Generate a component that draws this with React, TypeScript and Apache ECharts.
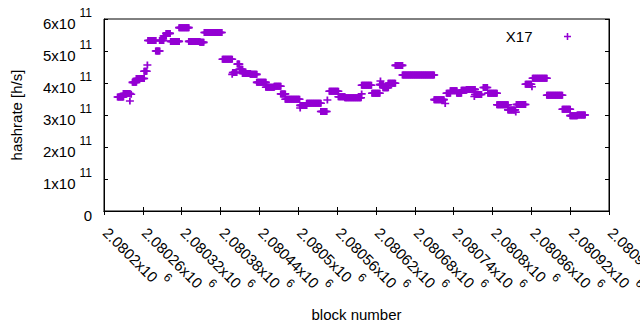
import React, { useEffect, useRef } from "react";
import * as echarts from "echarts";

// Runs of consecutive blocks sharing the same hashrate estimate (start block, end block, hashrate h/s)
const runStart = [
  2080221, 2080230, 2080240, 2080242, 2080244, 2080250, 2080262, 2080267, 2080268, 2080280,
  2080286, 2080292, 2080296, 2080303, 2080316, 2080331, 2080348, 2080355, 2080383, 2080398,
  2080399, 2080406, 2080409, 2080414, 2080426, 2080436, 2080450, 2080463, 2080473, 2080480,
  2080503, 2080503, 2080513, 2080535, 2080545, 2080548, 2080562, 2080572, 2080598, 2080598,
  2080614, 2080627, 2080626, 2080631, 2080639, 2080650, 2080661, 2080710, 2080727, 2080729,
  2080735, 2080745, 2080752, 2080760, 2080772, 2080773, 2080786, 2080793, 2080807, 2080824,
  2080836, 2080837, 2080851, 2080861, 2080862, 2080884, 2080908, 2080920, 2080931,
];
const runEnd = [
  2080230, 2080240, 2080240, 2080242, 2080250, 2080262, 2080266, 2080267, 2080280, 2080286,
  2080292, 2080296, 2080302, 2080316, 2080331, 2080348, 2080354, 2080382, 2080398, 2080398,
  2080405, 2080409, 2080414, 2080426, 2080436, 2080450, 2080463, 2080473, 2080480, 2080502,
  2080503, 2080513, 2080535, 2080544, 2080545, 2080562, 2080572, 2080597, 2080598, 2080613,
  2080626, 2080627, 2080631, 2080639, 2080650, 2080661, 2080710, 2080725, 2080727, 2080735,
  2080745, 2080752, 2080760, 2080773, 2080772, 2080783, 2080792, 2080807, 2080824, 2080835,
  2080836, 2080851, 2080860, 2080861, 2080884, 2080908, 2080920, 2080931, 2080943,
];
const runValue = [
  3.56e11, 3.67e11, 3.44e11, 3.65e11, 4.02e11, 4.14e11, 4.37e11, 4.56e11, 5.33e11, 5.0e11,
  5.33e11, 5.47e11, 5.55e11, 5.3e11, 5.73e11, 5.3e11, 5.27e11, 5.58e11, 4.74e11, 4.27e11,
  4.33e11, 4.59e11, 4.43e11, 4.3e11, 4.27e11, 4.02e11, 3.87e11, 3.9e11, 3.66e11, 3.49e11,
  3.22e11, 3.3e11, 3.37e11, 3.11e11, 3.47e11, 3.74e11, 3.57e11, 3.54e11, 3.66e11, 3.93e11,
  3.68e11, 4.06e11, 3.95e11, 3.85e11, 3.99e11, 4.55e11, 4.25e11, 3.48e11, 3.36e11, 3.68e11,
  3.76e11, 3.68e11, 3.77e11, 3.8e11, 3.58e11, 3.64e11, 3.86e11, 3.68e11, 3.32e11, 3.16e11,
  3.09e11, 3.33e11, 3.96e11, 3.88e11, 4.15e11, 3.62e11, 3.18e11, 2.98e11, 3.0e11,
];

const seriesName = "X17";
const xMin = 2080200;
const xMax = 2080980;
const xInterval = 60;
const yMin = 0;
const yMax = 6e11;
const yInterval = 1e11;

const COLOR = "#9400D3";
const FONT = "Liberation Sans";
const PLUS =
  "path://M0,7L18,7L18,11L0,11Z M7,0L11,0L11,18L7,18Z";

export default function App() {
  const ref = useRef<HTMLDivElement>(null);
  useEffect(() => {
    const chart = echarts.init(ref.current!, null, { renderer: "svg" });
    const data: number[][] = [];
    for (let i = 0; i < runStart.length; i++) {
      for (let b = runStart[i]; b <= runEnd[i]; b++) data.push([b, runValue[i]]);
    }
    const tick = { show: true, inside: true, length: 4, lineStyle: { color: "#000", width: 1 } };
    const line = { show: true, lineStyle: { color: "#000", width: 1 } };
    const rich = {
      b: { fontFamily: FONT, fontSize: 15, color: "#000", lineHeight: 24, verticalAlign: "bottom" },
      s: { fontFamily: FONT, fontSize: 12, color: "#000", lineHeight: 12, verticalAlign: "top", padding: [0, 0, 0, 4] },
    };
    chart.setOption({
      animation: false,
      grid: {
        left: 104,
        right: 31,
        top: 19,
        bottom: 119,
        show: true,
        borderColor: "#000",
        borderWidth: 1,
        containLabel: false,
        outerBoundsMode: "none",
      },
      legend: {
        data: [seriesName],
        right: 64,
        top: 24,
        align: "right",
        icon: PLUS,
        itemWidth: 8,
        itemHeight: 7,
        textStyle: { fontFamily: FONT, fontSize: 15, color: "#000", padding: [0, 26, 0, 0] },
      },
      xAxis: [
        {
          type: "value",
          min: xMin,
          max: xMax,
          interval: xInterval,
          position: "bottom",
          name: "block number",
          nameLocation: "middle",
          nameGap: 96,
          nameMoveOverlap: false,
          nameTextStyle: { fontFamily: FONT, fontSize: 15, color: "#000" },
          axisLine: line,
          axisTick: tick,
          splitLine: { show: false },
          axisLabel: {
            rotate: -45,
            margin: 11,
            padding: [0, 0, 0, 7],
            showMinLabel: true,
            showMaxLabel: true,
            hideOverlap: false,
            formatter: (v: number) => `{b|${+(v / 1e6).toFixed(5)}x10}{s|6}`,
            rich,
          },
        },
        {
          type: "value",
          min: xMin,
          max: xMax,
          interval: xInterval,
          position: "top",
          axisLine: line,
          axisTick: tick,
          axisLabel: { show: false },
          splitLine: { show: false },
        },
      ],
      yAxis: [
        {
          type: "value",
          min: yMin,
          max: yMax,
          interval: yInterval,
          position: "left",
          name: "hashrate [h/s]",
          nameLocation: "middle",
          nameGap: 80,
          nameRotate: 90,
          nameMoveOverlap: false,
          nameTextStyle: { fontFamily: FONT, fontSize: 15, color: "#000" },
          axisLine: line,
          axisTick: tick,
          splitLine: { show: false },
          axisLabel: {
            margin: 12,
            showMinLabel: true,
            showMaxLabel: true,
            hideOverlap: false,
            formatter: (v: number) => (v === 0 ? "{b|0}" : `{b|${Math.round(v / 1e11)}x10}{s|11}`),
            rich,
          },
        },
        {
          type: "value",
          min: yMin,
          max: yMax,
          interval: yInterval,
          position: "right",
          axisLine: line,
          axisTick: tick,
          axisLabel: { show: false },
          splitLine: { show: false },
        },
      ],
      series: [
        {
          name: seriesName,
          type: "scatter",
          data,
          symbol: PLUS,
          symbolSize: [8, 7],
          itemStyle: { color: COLOR, opacity: 1 },
          emphasis: { disabled: true },
          xAxisIndex: 0,
          yAxisIndex: 0,
        },
      ],
    });
    return () => chart.dispose();
  }, []);
  return <div ref={ref} style={{ position: "absolute", left: 0, top: 0, width: 640, height: 330 }} />;
}
